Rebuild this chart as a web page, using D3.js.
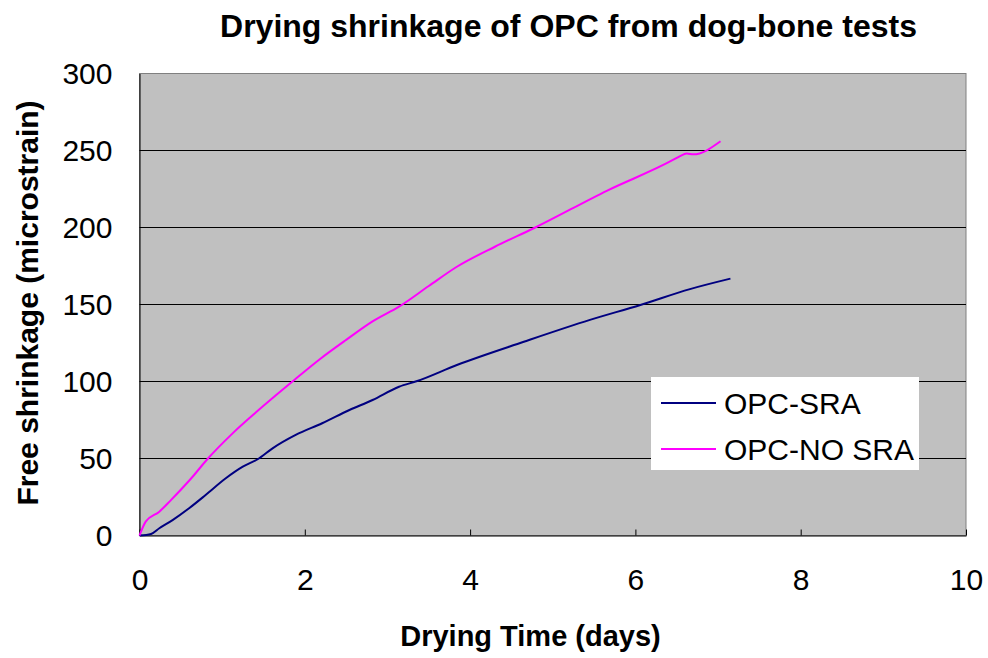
<!DOCTYPE html>
<html>
<head>
<meta charset="utf-8">
<script src="https://cdn.jsdelivr.net/npm/d3@7"></script>
<style>
  body { margin: 0; background: #fff; }
  text { font-family: "Liberation Sans", Arial, sans-serif; }
</style>
</head>
<body>
<svg width="988" height="658"></svg>
<script>
const svg = d3.select("svg"),
    margin = {left: 139.5, right: 22, top: 73.5, bottom: 122.5},
    width = 988 - margin.left - margin.right,
    height = 658 - margin.top - margin.bottom

// values (days, microstrain)
const sraDays = [0, 0.14, 0.24, 0.40, 0.60, 0.80, 1.04, 1.25, 1.43, 1.61, 1.89, 2.21, 2.54, 2.82, 3.14, 3.36, 3.84, 4.65, 5.45, 6.06, 6.66, 7.15]
const sraVals = [0, 1, 4.7, 10, 17.7, 26.3, 37, 44.7, 49.5, 56.6, 65.3, 72.9, 81.5, 88, 96.6, 100.3, 110.7, 125.8, 140, 149.7, 160, 166.8]
const noSraDays = [0, 0.075, 0.24, 0.38, 0.64, 0.82, 1.12, 1.41, 1.65, 1.85, 2.17, 2.50, 2.82, 3.14, 3.50, 3.84, 4.30, 4.77, 5.66, 6.46, 6.54, 6.62, 6.70, 7.03]
const noSraVals = [0, 9, 15.5, 23, 38, 49.5, 66, 80, 91, 100, 114, 127, 139, 148.6, 162, 174.5, 187.5, 199.5, 224, 244, 246.4, 248, 247.5, 256]
const seriesNames = ["OPC-SRA", "OPC-NO SRA"]
const seriesColors = ["#000080", "#ff00ff"]
const xTicks = [0, 2, 4, 6, 8, 10]
const yTicks = [0, 50, 100, 150, 200, 250, 300]

const x = d3.scaleLinear().domain([0, 10]).range([0, width]),
    y = d3.scaleLinear().domain([0, 300]).range([height, 0])

const g = svg.append("g").attr("transform", `translate(${margin.left},${margin.top})`)

g.append("rect")
    .attr("width", width).attr("height", height)
    .attr("fill", "#c0c0c0").attr("stroke", "#808080")

// gridlines
g.selectAll(".grid")
    .data(yTicks.filter(d => d > 0 && d < 300))
    .enter().append("line")
    .attr("x1", 0).attr("x2", width)
    .attr("y1", d => y(d)).attr("y2", d => y(d))
    .attr("stroke", "#000").attr("stroke-width", 1)

// x axis with inward ticks
const xAxis = g.append("g")
    .attr("transform", `translate(0,${height})`)
    .call(d3.axisBottom(x).tickValues(xTicks).tickSizeInner(-6).tickSizeOuter(0).tickPadding(33))
xAxis.select(".domain").attr("stroke", "#000")
xAxis.selectAll("text").attr("font-size", 30).attr("fill", "#000")

const yAxis = g.append("g")
    .call(d3.axisLeft(y).tickValues(yTicks).tickSize(0).tickPadding(27))
yAxis.select(".domain").attr("stroke", "#000")
yAxis.selectAll("text").attr("font-size", 30).attr("fill", "#000")

const line = d3.line()
    .curve(d3.curveMonotoneX)
    .x(d => x(d[0]))
    .y(d => y(d[1]))

const series = [
    d3.zip(sraDays, sraVals),
    d3.zip(noSraDays, noSraVals)
]

g.selectAll(".series")
    .data(series)
    .enter().append("path")
    .attr("d", d => line(d))
    .attr("fill", "none")
    .attr("stroke-width", 2)
    .attr("stroke", (d, i) => seriesColors[i])

// legend
const legend = svg.append("g").attr("transform", "translate(651,377)")
legend.append("rect").attr("width", 268).attr("height", 93).attr("fill", "#fff")
seriesNames.forEach(function (name, i) {
    const yy = 26 + i * 46
    legend.append("line")
        .attr("x1", 10).attr("x2", 65)
        .attr("y1", yy).attr("y2", yy)
        .attr("stroke", seriesColors[i]).attr("stroke-width", 2)
    legend.append("text")
        .attr("x", 73).attr("y", yy + 10.5)
        .attr("font-size", 30)
        .text(name)
})

// titles
svg.append("text")
    .attr("x", 568.5).attr("y", 37)
    .attr("text-anchor", "middle")
    .attr("font-size", 32).attr("font-weight", "bold")
    .text("Drying shrinkage of OPC from dog-bone tests")

svg.append("text")
    .attr("x", 530.5).attr("y", 646)
    .attr("text-anchor", "middle")
    .attr("font-size", 29).attr("font-weight", "bold")
    .text("Drying Time (days)")

svg.append("text")
    .attr("transform", "translate(38,303) rotate(-90)")
    .attr("text-anchor", "middle")
    .attr("font-size", 30).attr("font-weight", "bold")
    .text("Free shrinkage (microstrain)")
</script>
</body>
</html>
